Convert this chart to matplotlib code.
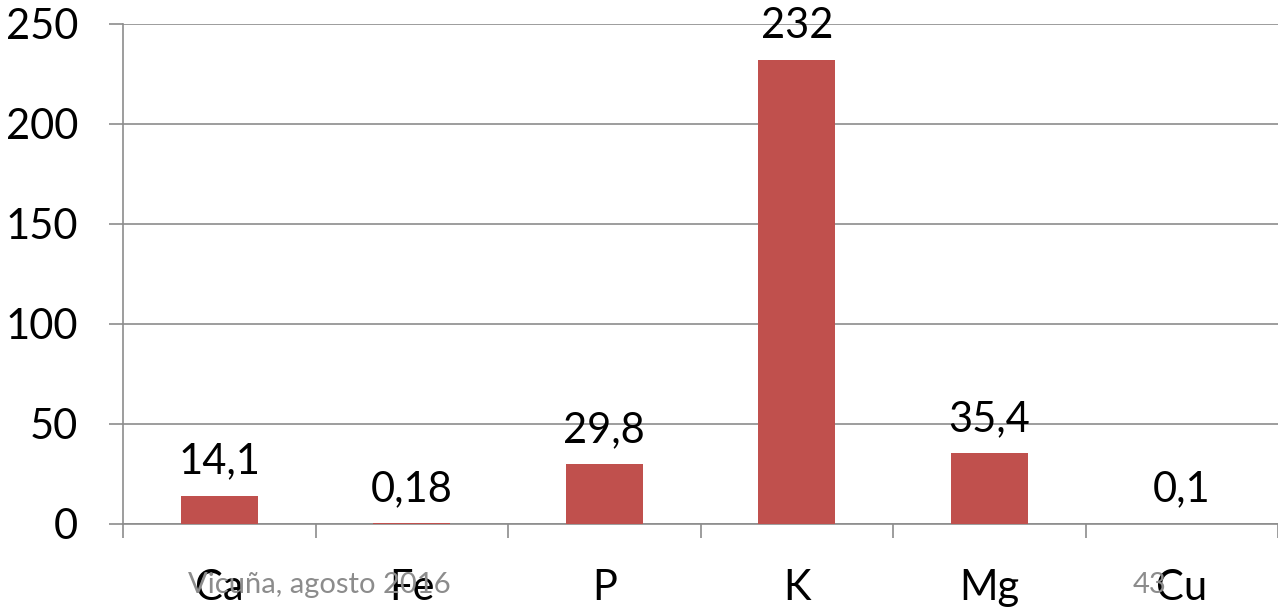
import matplotlib
matplotlib.use("Agg")
import matplotlib.pyplot as plt

plt.rcParams["font.family"] = ["Lato", "DejaVu Sans"]

elements = ["Ca", "Fe", "P", "K", "Mg", "Cu"]
contents = [14.1, 0.18, 29.8, 232, 35.4, 0.1]
yticks = [0, 50, 100, 150, 200, 250]
footer = "Vicuña, agosto 2016"
page_no = "43"

W, H, DPI = 1278, 613, 100
px = 72.0 / DPI  # points per pixel
bar_color = "#C0504D"
grid_color = "#8C8C8C"

fig = plt.figure(figsize=(W / DPI, H / DPI), dpi=DPI)
ax = fig.add_axes([123 / W, (H - 523.7) / H, 1155 / W, 500 / H])

x = range(len(elements))
ax.bar(x, contents, width=0.4, color=bar_color, zorder=3)
ax.set_xlim(-0.5, len(elements) - 0.5)
ax.set_ylim(0, 250)

# value labels with decimal comma
for i, v in enumerate(contents):
    ax.annotate(f"{v:g}".replace(".", ","), xy=(i, v), xytext=(0, 22 * px),
                textcoords="offset points", ha="center", va="baseline",
                fontsize=30, color="black", zorder=4)

# category names under the axis
for i, name in enumerate(elements):
    ax.annotate(name, xy=(i, 0), xycoords=("data", "axes fraction"),
                xytext=(0, -76 * px), textcoords="offset points",
                ha="center", va="baseline", fontsize=30, annotation_clip=False)

ax.set_yticks(yticks)
ax.set_yticklabels([str(t) for t in yticks], fontsize=30)
ax.set_xticks([i - 0.5 for i in range(len(elements) + 1)])
ax.set_xticklabels([])
ax.tick_params(axis="y", length=14 * px, width=1.2, color=grid_color, pad=31 * px)
ax.tick_params(axis="x", length=14 * px, width=1.2, color=grid_color)
ax.yaxis.grid(True, color=grid_color, linewidth=1.2, zorder=0)
ax.set_axisbelow(True)

for s in ["top", "right"]:
    ax.spines[s].set_visible(False)
for s in ["left", "bottom"]:
    ax.spines[s].set_color(grid_color)
    ax.spines[s].set_linewidth(1.2)

fig.text(188 / W, (H - 593) / H, footer, fontsize=21, color="#8C8C8C", va="baseline")
fig.text(1133 / W, (H - 593) / H, page_no, fontsize=21, color="#8C8C8C", va="baseline")

fig.savefig("out.png", dpi=DPI)
